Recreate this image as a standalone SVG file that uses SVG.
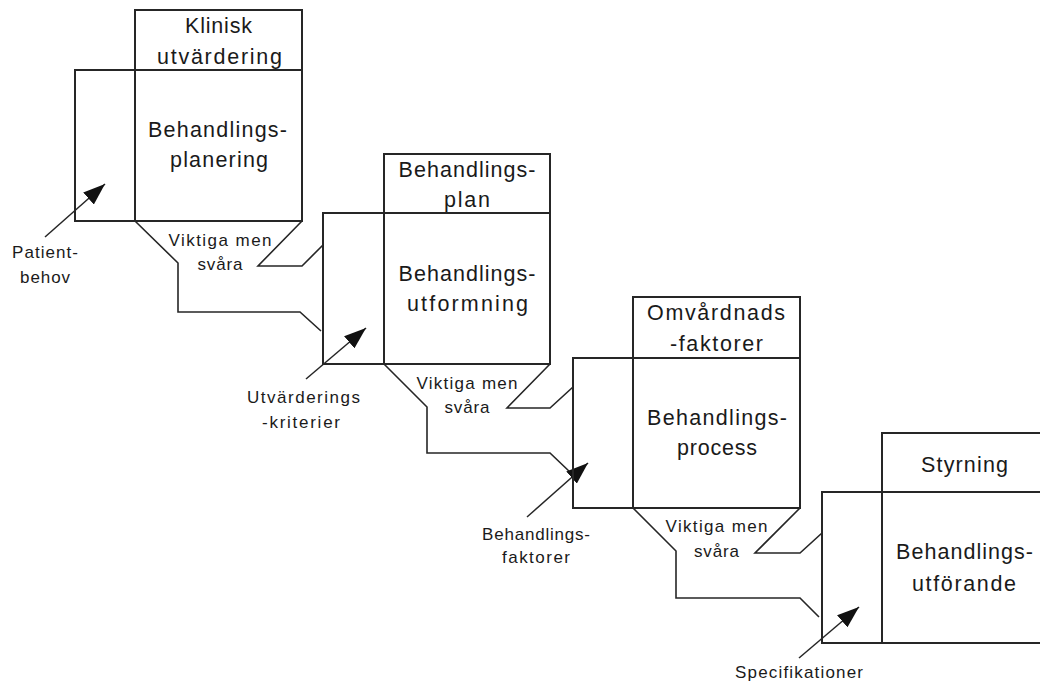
<svg xmlns="http://www.w3.org/2000/svg" width="1040" height="686" viewBox="0 0 1040 686">
  <style>
    .box { fill: none; stroke: #262626; stroke-width: 2; }
    .wire { fill: none; stroke: #262626; stroke-width: 1.6; }
    .arrow { fill: none; stroke: #262626; stroke-width: 1.5; marker-end: url(#head); }
    .big { font-family: "Liberation Sans", Arial, sans-serif; font-size: 21.5px; fill: #1a1a1a; text-anchor: middle; }
    .small { font-family: "Liberation Sans", Arial, sans-serif; font-size: 17px; fill: #1a1a1a; text-anchor: middle; }
  </style>
  <defs>
    <marker id="head" markerWidth="24" markerHeight="16" refX="22" refY="8" orient="auto" markerUnits="userSpaceOnUse">
      <path d="M0,0 L22,8 L0,16 Z" fill="#111"/>
    </marker>
  </defs>
  <rect width="1040" height="686" fill="#fff"/>

  <!-- connectors between the stages -->
  <g id="connectors">
    <!-- stage 1 outputs -->
    <polyline class="wire" points="135,221 178,263 178,312 300,312 321,331"/>
    <polyline class="wire" points="302,221 258,266 302,266 323,245"/>
    <!-- stage 2 outputs -->
    <polyline class="wire" points="384,364 427,407 427,453 550,453 571,473"/>
    <polyline class="wire" points="550,364 507,408 550,408 573,387"/>
    <!-- stage 3 outputs -->
    <polyline class="wire" points="633,508 676,551 676,598 800,598 819,617"/>
    <polyline class="wire" points="800,508 755,553 800,553 822,533"/>
    <!-- inputs -->
    <line class="arrow" x1="45" y1="237" x2="105" y2="184"/>
    <line class="arrow" x1="306" y1="379" x2="366" y2="328"/>
    <line class="arrow" x1="527" y1="517" x2="588" y2="463"/>
    <line class="arrow" x1="799" y1="658" x2="859" y2="607"/>
  </g>

  <!-- stage 1 -->
  <g id="stage1">
    <rect class="box" x="135" y="10" width="167" height="60"/>
    <rect class="box" x="135" y="70" width="167" height="151"/>
    <rect class="box" x="75" y="70" width="60" height="151"/>
    <text class="big" x="218.5" y="33" textLength="67" lengthAdjust="spacing">Klinisk</text>
    <text class="big" x="219.5" y="64" textLength="125" lengthAdjust="spacing">utvärdering</text>
    <text class="big" x="217.5" y="137" textLength="139" lengthAdjust="spacing">Behandlings-</text>
    <text class="big" x="219" y="167" textLength="98" lengthAdjust="spacing">planering</text>
    <text class="small" x="220" y="246" textLength="103" lengthAdjust="spacing">Viktiga men</text>
    <text class="small" x="220" y="270" textLength="45" lengthAdjust="spacing">svåra</text>
  </g>
  <g id="patientbehov">
    <text class="small" x="45" y="258" textLength="66" lengthAdjust="spacing">Patient-</text>
    <text class="small" x="45" y="283" textLength="50" lengthAdjust="spacing">behov</text>
  </g>

  <!-- stage 2 -->
  <g id="stage2">
    <rect class="box" x="384" y="154" width="166" height="59"/>
    <rect class="box" x="384" y="213" width="166" height="151"/>
    <rect class="box" x="323" y="213" width="61" height="151"/>
    <text class="big" x="467" y="177" textLength="137" lengthAdjust="spacing">Behandlings-</text>
    <text class="big" x="467" y="207" textLength="46" lengthAdjust="spacing">plan</text>
    <text class="big" x="467" y="281" textLength="137" lengthAdjust="spacing">Behandlings-</text>
    <text class="big" x="467.5" y="311" textLength="121" lengthAdjust="spacing">utformning</text>
    <text class="small" x="467" y="389" textLength="101" lengthAdjust="spacing">Viktiga men</text>
    <text class="small" x="467" y="413" textLength="45" lengthAdjust="spacing">svåra</text>
  </g>
  <g id="utvarderingskriterier">
    <text class="small" x="303.5" y="403" textLength="113" lengthAdjust="spacing">Utvärderings</text>
    <text class="small" x="301" y="428" textLength="78" lengthAdjust="spacing">-kriterier</text>
  </g>

  <!-- stage 3 -->
  <g id="stage3">
    <rect class="box" x="633" y="297" width="167" height="61"/>
    <rect class="box" x="633" y="358" width="167" height="150"/>
    <rect class="box" x="573" y="358" width="60" height="150"/>
    <text class="big" x="716" y="320" textLength="138" lengthAdjust="spacing">Omvårdnads</text>
    <text class="big" x="716.5" y="351" textLength="93" lengthAdjust="spacing">-faktorer</text>
    <text class="big" x="717" y="425" textLength="140" lengthAdjust="spacing">Behandlings-</text>
    <text class="big" x="717" y="455" textLength="80" lengthAdjust="spacing">process</text>
    <text class="small" x="716.5" y="532" textLength="102" lengthAdjust="spacing">Viktiga men</text>
    <text class="small" x="716.5" y="557" textLength="45" lengthAdjust="spacing">svåra</text>
  </g>
  <g id="behandlingsfaktorer">
    <text class="small" x="536" y="540" textLength="108" lengthAdjust="spacing">Behandlings-</text>
    <text class="small" x="536" y="563" textLength="68" lengthAdjust="spacing">faktorer</text>
  </g>

  <!-- stage 4 (runs past the right edge) -->
  <g id="stage4">
    <rect class="box" x="882" y="433" width="180" height="59"/>
    <rect class="box" x="882" y="492" width="180" height="151"/>
    <rect class="box" x="822" y="492" width="60" height="151"/>
    <text class="big" x="964.5" y="472" textLength="87" lengthAdjust="spacing">Styrning</text>
    <text class="big" x="964.5" y="559" textLength="137" lengthAdjust="spacing">Behandlings-</text>
    <text class="big" x="964" y="591" textLength="104" lengthAdjust="spacing">utförande</text>
  </g>
  <g id="specifikationer">
    <text class="small" x="799" y="678" textLength="128" lengthAdjust="spacing">Specifikationer</text>
  </g>
</svg>
